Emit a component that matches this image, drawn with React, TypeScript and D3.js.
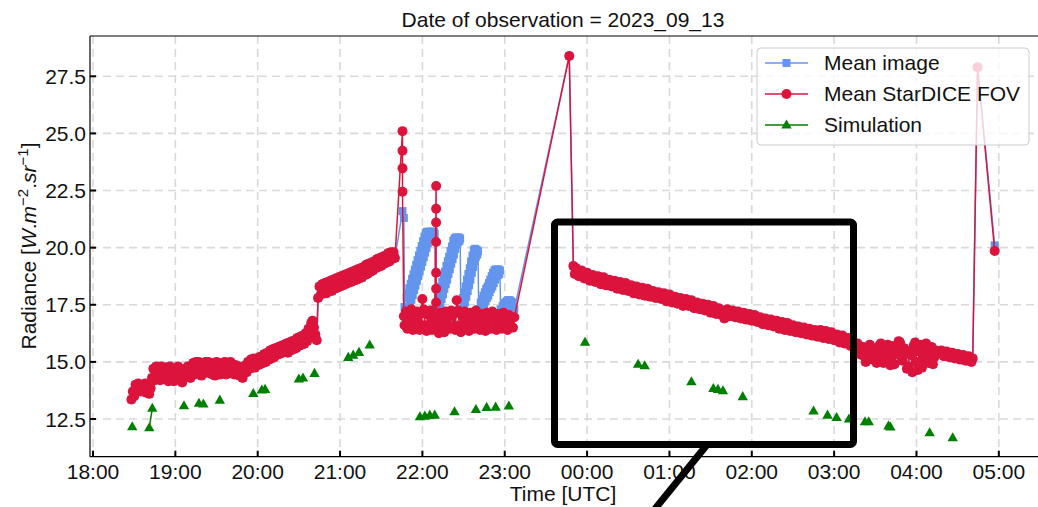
import React from "react";
import * as d3 from "d3";

type P = [number, number]; // [minutes after 18:00 UTC, radiance]

const TITLE = "Date of observation = 2023_09_13";
const X_TICK_LABELS = ["18:00", "19:00", "20:00", "21:00", "22:00", "23:00", "00:00", "01:00", "02:00", "03:00", "04:00", "05:00"];
const Y_TICKS = [12.5, 15.0, 17.5, 20.0, 22.5, 25.0, 27.5];
const LEGEND = ["Mean image", "Mean StarDICE FOV", "Simulation"];

// ---- Mean StarDICE FOV ----
const FOV_EVENING: P[] = [
  [28, 13.35], [29, 13.7], [30, 13.5], [31, 14.0], [32, 13.75], [33, 14.05], [35, 13.7], [36, 13.95], [37, 13.8],
  [38, 14.05], [39, 13.65], [40, 13.9], [41, 13.6], [42, 13.85],
  [43, 14.3], [44, 14.7], [45, 14.2], [46, 14.8], [47, 14.35], [48, 14.75], [49, 14.2], [50, 14.8], [51, 14.4],
  [52, 14.25], [53, 14.75], [54, 14.5], [55, 14.15], [56, 14.8], [57, 14.35], [58, 14.7], [59, 14.15], [60, 14.6],
  [61, 14.25], [62, 14.8], [63, 14.45], [64, 14.7], [65, 14.1], [66, 14.3], [67, 14.65], [68, 14.4], [69, 14.8],
  [70, 14.5], [71, 14.3], [72, 14.7], [73, 14.95], [74, 14.45], [75, 15.0], [76, 14.55], [77, 15.0], [78, 14.7],
  [79, 14.4], [80, 14.9], [81, 14.5], [82, 15.0], [83, 14.6], [84, 15.0], [85, 14.5], [86, 14.95], [87, 14.45],
  [88, 14.85], [89, 14.4], [90, 15.0], [91, 14.6], [92, 14.95], [93, 14.45], [94, 14.9], [95, 14.55], [96, 15.0],
  [97, 14.45], [98, 14.85], [99, 14.5], [100, 15.0], [101, 14.65], [102, 14.9], [103, 14.45], [104, 14.85], [105, 14.45],
  [106, 14.8], [107, 14.4], [108, 14.75], [109, 14.3], [110, 14.55], [111, 14.85], [112, 14.55], [113, 15.0],
  [114, 14.7], [115, 15.1], [116, 14.75], [117, 15.15], [118, 14.75], [119, 15.05], [120, 14.85], [121, 15.2],
  [122, 14.9], [123, 15.25], [124, 14.95], [125, 15.35], [126, 15.0], [127, 15.4], [128, 15.1], [129, 15.5],
  [130, 15.15], [131, 15.55], [132, 15.2], [133, 15.6], [134, 15.3], [135, 15.65], [136, 15.35], [137, 15.7],
  [138, 15.4], [139, 15.75], [140, 15.45], [141, 15.8], [142, 15.4], [143, 15.85], [144, 15.5], [145, 15.9],
  [146, 15.55], [147, 15.95], [148, 15.6], [149, 16.05], [150, 15.7], [151, 16.1], [152, 15.75], [153, 16.15],
  [154, 15.8], [155, 16.25], [156, 15.9], [157, 16.45], [158, 16.1], [159, 16.7], [160, 16.8], [161, 16.5],
  [162, 16.2], [163, 15.95],
  [164, 17.8], [165, 18.3], [166, 17.95], [167, 18.4], [168, 18.05], [169, 18.45], [170, 18.0], [171, 18.5],
  [172, 18.15], [173, 18.55], [174, 18.1], [175, 18.6], [176, 18.2], [177, 18.65], [178, 18.25], [179, 18.7],
  [180, 18.3], [181, 18.75], [182, 18.35], [183, 18.8], [184, 18.4], [185, 18.85], [186, 18.45], [187, 18.9],
  [188, 18.5], [189, 18.95], [190, 18.55], [191, 19.0], [192, 18.6], [193, 19.05], [194, 18.65], [195, 19.1],
  [196, 18.7], [197, 19.15], [198, 18.8], [199, 19.25], [200, 18.85], [201, 19.3], [202, 18.95], [203, 19.35],
  [204, 19.0], [205, 19.4], [206, 19.1], [207, 19.5], [208, 19.15], [209, 19.55], [210, 19.2], [211, 19.6],
  [212, 19.3], [213, 19.65], [214, 19.35], [215, 19.75], [216, 19.4], [217, 19.8], [218, 19.5], [219, 19.8],
  [220, 19.55],
];
const FOV_SPIKE1: P[] = [[225.5, 25.1], [225.5, 24.24], [225.5, 23.47], [225.5, 22.45]];
const FOV_PLATEAU: P[] = [
  [226.5, 17.0], [227, 16.6], [228, 17.2], [229, 16.45], [230, 17.1], [231, 16.7], [232, 17.3], [233, 16.4],
  [234, 16.95], [235, 16.55], [236, 17.2], [237, 16.75], [238, 16.4], [239, 17.1], [240, 17.75], [241, 17.3],
  [242, 16.6], [243, 16.35], [244, 17.05], [245, 16.5], [246, 17.25], [247, 16.4], [248, 16.9], [249, 16.6],
  [250, 22.7], [250, 21.7], [250, 21.1], [250, 20.25], [250, 18.9], [250, 18.2], [250, 17.6],
  [251, 16.8], [252, 16.25], [253, 17.15], [254, 16.5], [255, 16.95], [256, 16.3], [257, 17.2], [258, 16.6],
  [259, 17.0], [260, 16.45], [261, 17.25], [262, 16.55], [263, 17.1], [264, 16.4], [265, 17.7], [266, 17.25],
  [267, 16.6], [268, 16.3], [269, 17.0], [270, 16.55], [271, 17.2], [272, 16.45], [273, 16.9], [274, 16.35],
  [275, 17.15], [276, 16.6], [277, 17.05], [278, 16.45], [279, 17.25], [280, 16.7], [281, 16.95], [282, 16.4],
  [283, 17.1], [284, 16.5], [285, 16.9], [286, 16.35], [287, 17.15], [288, 16.6], [289, 17.0], [290, 16.45],
  [291, 17.2], [292, 16.55], [293, 16.95], [294, 16.4], [295, 17.1], [296, 16.6], [297, 16.85], [298, 16.45],
  [299, 17.15], [300, 16.5], [301, 16.95], [302, 16.4], [303, 17.05], [304, 16.6], [305, 16.9], [306, 16.5],
  [307, 16.95],
];
const FOV_PEAK: P[] = [[347, 28.39]];
const FOV_MORNING: P[] = [
  [350, 19.2], [351, 18.85], [352, 19.1], [354, 18.75], [356, 19.0], [358, 18.65], [360, 18.9], [362, 18.55],
  [364, 18.8], [366, 18.5], [368, 18.75], [370, 18.4], [372, 18.7], [374, 18.35], [376, 18.6], [378, 18.3],
  [380, 18.55], [382, 18.2], [384, 18.5], [386, 18.15], [388, 18.45], [390, 18.1], [392, 18.35], [394, 18.0],
  [396, 18.3], [398, 17.95], [400, 18.25], [402, 17.9], [404, 18.2], [406, 17.85], [408, 18.1], [410, 17.8],
  [412, 18.05], [414, 17.75], [416, 18.0], [418, 17.65], [420, 17.95], [422, 17.6], [424, 17.85], [426, 17.55],
  [428, 17.8], [430, 17.45], [432, 17.75], [434, 17.45], [436, 17.7], [438, 17.35], [440, 17.6], [442, 17.3],
  [444, 17.55], [446, 17.25], [448, 17.5], [450, 17.15], [452, 17.45], [454, 17.1], [456, 17.35], [458, 17.05],
  [460, 16.9], [462, 17.3], [464, 17.0], [466, 17.25], [468, 16.95], [470, 17.2], [472, 16.9], [474, 17.15],
  [476, 16.85], [478, 17.1], [480, 16.8], [482, 17.05], [484, 16.75], [486, 16.95], [488, 16.65], [490, 16.9],
  [492, 16.6], [494, 16.85], [496, 16.55], [498, 16.8], [500, 16.45], [502, 16.75], [504, 16.4], [506, 16.7],
  [508, 16.35], [510, 16.6], [512, 16.3], [514, 16.55], [516, 16.25], [518, 16.5], [520, 16.2], [522, 16.45],
  [524, 16.15], [526, 16.4], [528, 16.1], [530, 16.4], [532, 16.05], [534, 16.35], [536, 16.0], [538, 16.3],
  [540, 15.95], [542, 16.2], [544, 15.85], [546, 16.15], [548, 15.8], [550, 16.05], [552, 15.7], [554, 15.85],
  [556, 15.5], [557, 15.8], [558, 15.7], [559, 15.35], [560, 15.3], [561, 15.65], [562, 15.6], [563, 15.0],
  [564, 15.2], [565, 15.5], [566, 15.75], [567, 15.35], [568, 15.1], [569, 15.6], [570, 15.55], [571, 14.95],
  [572, 15.25], [573, 15.7], [574, 15.8], [575, 15.4], [576, 14.95], [577, 15.2], [578, 15.45], [579, 15.75],
  [580, 15.1], [581, 14.85], [582, 15.7], [583, 15.3], [584, 14.9], [585, 15.55], [586, 15.4], [587, 15.9],
  [588, 15.85], [589, 15.2], [590, 15.05], [591, 15.6], [592, 15.5], [593, 14.7], [594, 14.8], [595, 15.4],
  [596, 15.3], [597, 14.55], [598, 15.7], [599, 15.85], [600, 15.0], [601, 14.65], [602, 15.45], [603, 15.75],
  [604, 14.75], [605, 15.2], [606, 15.6], [607, 15.8], [608, 15.1], [609, 14.95], [610, 15.4], [611, 15.65],
  [612, 14.9], [613, 15.2], [614, 15.5], [615, 15.35],
  [618, 15.5], [620, 15.25], [622, 15.45], [624, 15.2], [626, 15.4], [628, 15.15], [630, 15.35], [632, 15.1],
  [634, 15.3], [636, 15.05], [638, 15.25], [640, 15.0], [641, 15.15],
];
const FOV_LATE: P[] = [[644.5, 27.9], [657, 19.85]];

// ---- Mean image (differs from FOV around the 22:00 sawtooth and the spikes) ----
const IMAGE_SPIKE1: P[] = [[225.5, 21.6], [226.5, 21.3], [227, 17.4]];
const IMAGE_SAWTOOTH: P[] = [
  [228, 17.2], [228.5, 17.8], [229, 17.11], [229.5, 18.01], [230, 17.31], [230.5, 18.22], [231, 17.52],
  [231.5, 18.42], [232, 17.72], [232.5, 18.63], [233, 17.93], [233.5, 18.83], [234, 18.14], [234.5, 19.04],
  [235, 18.34], [235.5, 19.25], [236, 18.55], [236.5, 19.45], [237, 18.75], [237.5, 19.66], [238, 18.96],
  [238.5, 19.86], [239, 19.17], [239.5, 20.07], [240, 19.37], [240.5, 20.28], [241, 19.58], [241.5, 20.48],
  [242, 19.78], [242.5, 20.65], [243, 19.99], [243.5, 20.7], [244, 20.2], [244.5, 20.65], [245, 20.35],
  [245.5, 20.7], [246, 20.45], [246.5, 20.7], [247, 20.5], [247.5, 20.65], [248, 20.55], [248.5, 20.7],
  [249, 20.6], [250, 17.4],
  [251, 17.2], [251.5, 17.85], [252, 17.3], [252.5, 18.05], [253, 17.5], [253.5, 18.3], [254, 17.75],
  [254.5, 18.5], [255, 17.95], [255.5, 18.75], [256, 18.2], [256.5, 18.95], [257, 18.4], [257.5, 19.2],
  [258, 18.6], [258.5, 19.4], [259, 18.85], [259.5, 19.6], [260, 19.05], [260.5, 19.85], [261, 19.3],
  [261.5, 20.05], [262, 19.5], [262.5, 20.3], [263, 19.7], [263.5, 20.4], [264, 19.95], [264.5, 20.45],
  [265, 20.15], [265.5, 20.4], [266, 20.25], [266.5, 20.45], [267, 20.3], [267.5, 20.4], [268, 17.3],
  [269, 17.2], [269.5, 17.8], [270, 17.35], [270.5, 18.05], [271, 17.6], [271.5, 18.3], [272, 17.85],
  [272.5, 18.6], [273, 18.1], [273.5, 18.85], [274, 18.35], [274.5, 19.1], [275, 18.6], [275.5, 19.4],
  [276, 18.9], [276.5, 19.65], [277, 19.15], [277.5, 19.9], [278, 19.4], [278.5, 19.95], [279, 19.6],
  [279.5, 19.9], [280, 19.7], [280.5, 19.85], [281, 17.3],
  [282, 17.2], [282.5, 17.6], [283, 17.25], [283.5, 17.75], [284, 17.4], [284.5, 17.9], [285, 17.5],
  [285.5, 18.05], [286, 17.65], [286.5, 18.2], [287, 17.8], [287.5, 18.3], [288, 17.9], [288.5, 18.45],
  [289, 18.05], [289.5, 18.6], [290, 18.2], [290.5, 18.75], [291, 18.3], [291.5, 18.9], [292, 18.45],
  [292.5, 19.0], [293, 18.6], [293.5, 19.05], [294, 18.75], [294.5, 19.0], [295, 18.8], [295.5, 19.05],
  [296, 18.85], [296.5, 19.0], [297, 17.3],
  [298, 17.2], [298.5, 17.45], [299, 17.25], [299.5, 17.55], [300, 17.3], [300.5, 17.6], [301, 17.35],
  [301.5, 17.65], [302, 17.4], [302.5, 17.7], [303, 17.45], [303.5, 17.7], [304, 17.5], [304.5, 17.65],
  [305, 17.45], [305.5, 17.6], [306, 17.4], [307, 17.3],
];
const IMAGE_PEAK: P[] = [[347, 28.39]];
const IMAGE_LATE: P[] = [[644.5, 27.9], [657, 20.1]];

// ---- Simulation (groups of connected points) ----
const SIMULATION: P[][] = [
  [[28.6, 12.16]],
  [[41, 12.12], [43.2, 12.97]],
  [[66.3, 13.08]], [[77.2, 13.19]], [[80.4, 13.16]], [[92.4, 13.33]],
  [[116.8, 13.62]], [[123, 13.77]], [[125.4, 13.8]],
  [[150, 14.25]], [[153, 14.3]], [[161.4, 14.5]],
  [[186, 15.2]], [[189.6, 15.3]], [[193.8, 15.42]], [[201.6, 15.74]],
  [[238.2, 12.6]], [[241.8, 12.63]], [[245.4, 12.67]], [[249, 12.67]],
  [[263.4, 12.82]], [[279, 12.92]], [[286.8, 13.01]], [[293.4, 13.02]], [[303, 13.07]],
  [[358.5, 15.86]], [[397.2, 14.9]], [[402, 14.83]],
  [[436, 14.13]], [[452, 13.84]], [[455.4, 13.8]], [[459, 13.74]], [[473.4, 13.48]],
  [[525, 12.85]], [[535.2, 12.67]], [[541.8, 12.57]], [[550.8, 12.5]],
  [[562.5, 12.38]], [[565.2, 12.38]], [[579.6, 12.2]], [[581, 12.15]],
  [[609.6, 11.9]], [[626.4, 11.68]],
];

const RED = "#DC143C";
const BLUE = "#6495ED";
const GREEN = "#008000";
const FONT = "'Liberation Sans', Arial, Helvetica, sans-serif";
const FS = 21;

const tri = "M0,-5.5L5.2,3.6L-5.2,3.6Z";

export default function App() {
  const W = 1038, H = 507;
  const L = 90, R = 1040, T = 36, B = 456.7;
  const x = d3.scaleLinear().domain([-2.186, 690]).range([L, R]);
  const y = d3.scaleLinear().domain([10.85, 29.264]).range([B, T]);
  const line = d3.line<P>().x((d) => x(d[0])).y((d) => y(d[1]));

  const fov: P[] = [...FOV_EVENING, ...FOV_SPIKE1, ...FOV_PLATEAU, ...FOV_PEAK, ...FOV_MORNING, ...FOV_LATE];
  const img: P[] = [...FOV_EVENING, ...IMAGE_SPIKE1, ...IMAGE_SAWTOOTH, ...IMAGE_PEAK, ...FOV_MORNING, ...IMAGE_LATE];
  const xTicks = X_TICK_LABELS.map((lab, i) => ({ lab, v: i * 60 }));

  const legX0 = 765, legX1 = 808, legMid = 786.5, legText = 824;
  const legRows = [63, 94, 125];

  return (
    <svg width={W} height={H} style={{ position: "absolute", left: 0, top: 0, background: "#fff" }} fontFamily={FONT}>
      <rect x={0} y={0} width={W} height={H} fill="#fff" />
      <defs>
        <clipPath id="plot">
          <rect x={L} y={T} width={R - L} height={B - T} />
        </clipPath>
      </defs>
      {/* grid */}
      <g stroke="#d9d9d9" strokeWidth={1.6} strokeDasharray="8,5">
        {xTicks.map((t) => (
          <line key={t.lab} x1={x(t.v)} x2={x(t.v)} y1={T} y2={B} />
        ))}
        {Y_TICKS.map((v) => (
          <line key={v} x1={L} x2={R} y1={y(v)} y2={y(v)} />
        ))}
      </g>

      <g clipPath="url(#plot)">
        {/* Mean image */}
        <path d={line(img) || ""} fill="none" stroke={BLUE} strokeWidth={1.5} />
        {img.map((d, i) => (
          <rect key={"b" + i} x={x(d[0]) - 4} y={y(d[1]) - 4} width={8} height={8} fill={BLUE} />
        ))}
        {/* Mean FOV */}
        <path d={line(fov) || ""} fill="none" stroke={RED} strokeWidth={1.5} />
        {fov.map((d, i) => (
          <circle key={"r" + i} cx={x(d[0])} cy={y(d[1])} r={5} fill={RED} />
        ))}
        {/* Simulation */}
        {SIMULATION.map((g, gi) => (
          <g key={"s" + gi}>
            {g.length > 1 && <path d={line(g) || ""} fill="none" stroke={GREEN} strokeWidth={1.5} />}
            {g.map((d, i) => (
              <path key={i} d={tri} transform={`translate(${x(d[0])},${y(d[1])})`} fill={GREEN} />
            ))}
          </g>
        ))}
      </g>

      {/* spines */}
      <g stroke="#000" strokeWidth={1.2} fill="none">
        <line x1={L} x2={L} y1={T} y2={B} />
        <line x1={L} x2={R} y1={T} y2={T} />
        <line x1={L} x2={R} y1={B} y2={B} />
        <line x1={R} x2={R} y1={T} y2={B} />
      </g>
      {/* ticks */}
      <g stroke="#000" strokeWidth={2}>
        {xTicks.map((t) => (
          <line key={t.lab} x1={x(t.v)} x2={x(t.v)} y1={B} y2={B - 6} />
        ))}
        {Y_TICKS.map((v) => (
          <line key={v} x1={L} x2={L + 6} y1={y(v)} y2={y(v)} />
        ))}
      </g>
      <g fontSize={FS} fill="#111">
        {xTicks.map((t) => (
          <text key={t.lab} x={x(t.v)} y={478.5} textAnchor="middle">{t.lab}</text>
        ))}
        {Y_TICKS.map((v) => (
          <text key={v} x={86} y={y(v) + 7.5} textAnchor="end">{v.toFixed(1)}</text>
        ))}
      </g>

      {/* titles */}
      <text x={563} y={27} textAnchor="middle" fontSize={FS} fill="#111">{TITLE}</text>
      <text x={563} y={501} textAnchor="middle" fontSize={FS} fill="#111">Time [UTC]</text>
      <text transform="translate(36,246) rotate(-90)" textAnchor="middle" fontSize={FS} fill="#111">
        Radiance [<tspan fontStyle="italic">W</tspan>.<tspan fontStyle="italic">m</tspan>
        <tspan dy={-8} fontSize={15}>−2</tspan>
        <tspan dy={8}>.</tspan><tspan fontStyle="italic">sr</tspan>
        <tspan dy={-8} fontSize={15}>−1</tspan>
        <tspan dy={8}>]</tspan>
      </text>

      {/* legend */}
      <rect x={757} y={48} width={272} height={97} rx={4} fill="#fff" fillOpacity={0.8} stroke="#cccccc" strokeWidth={1} />
      <g>
        <line x1={legX0} x2={legX1} y1={legRows[0]} y2={legRows[0]} stroke={BLUE} strokeWidth={1.5} />
        <rect x={legMid - 4} y={legRows[0] - 4} width={8} height={8} fill={BLUE} />
        <line x1={legX0} x2={legX1} y1={legRows[1]} y2={legRows[1]} stroke={RED} strokeWidth={1.5} />
        <circle cx={legMid} cy={legRows[1]} r={5} fill={RED} />
        <line x1={legX0} x2={legX1} y1={legRows[2]} y2={legRows[2]} stroke={GREEN} strokeWidth={1.5} />
        <path d={tri} transform={`translate(${legMid},${legRows[2]})`} fill={GREEN} />
        {LEGEND.map((s, i) => (
          <text key={s} x={legText} y={legRows[i] + 7} fontSize={FS} fill="#111">{s}</text>
        ))}
      </g>

      {/* annotation overlay */}
      <rect x={554.5} y={222} width={299} height={222.5} rx={3} fill="none" stroke="#000" strokeWidth={7} />
      <line x1={706} y1={446} x2={650} y2={515} stroke="#000" strokeWidth={7} />
    </svg>
  );
}
